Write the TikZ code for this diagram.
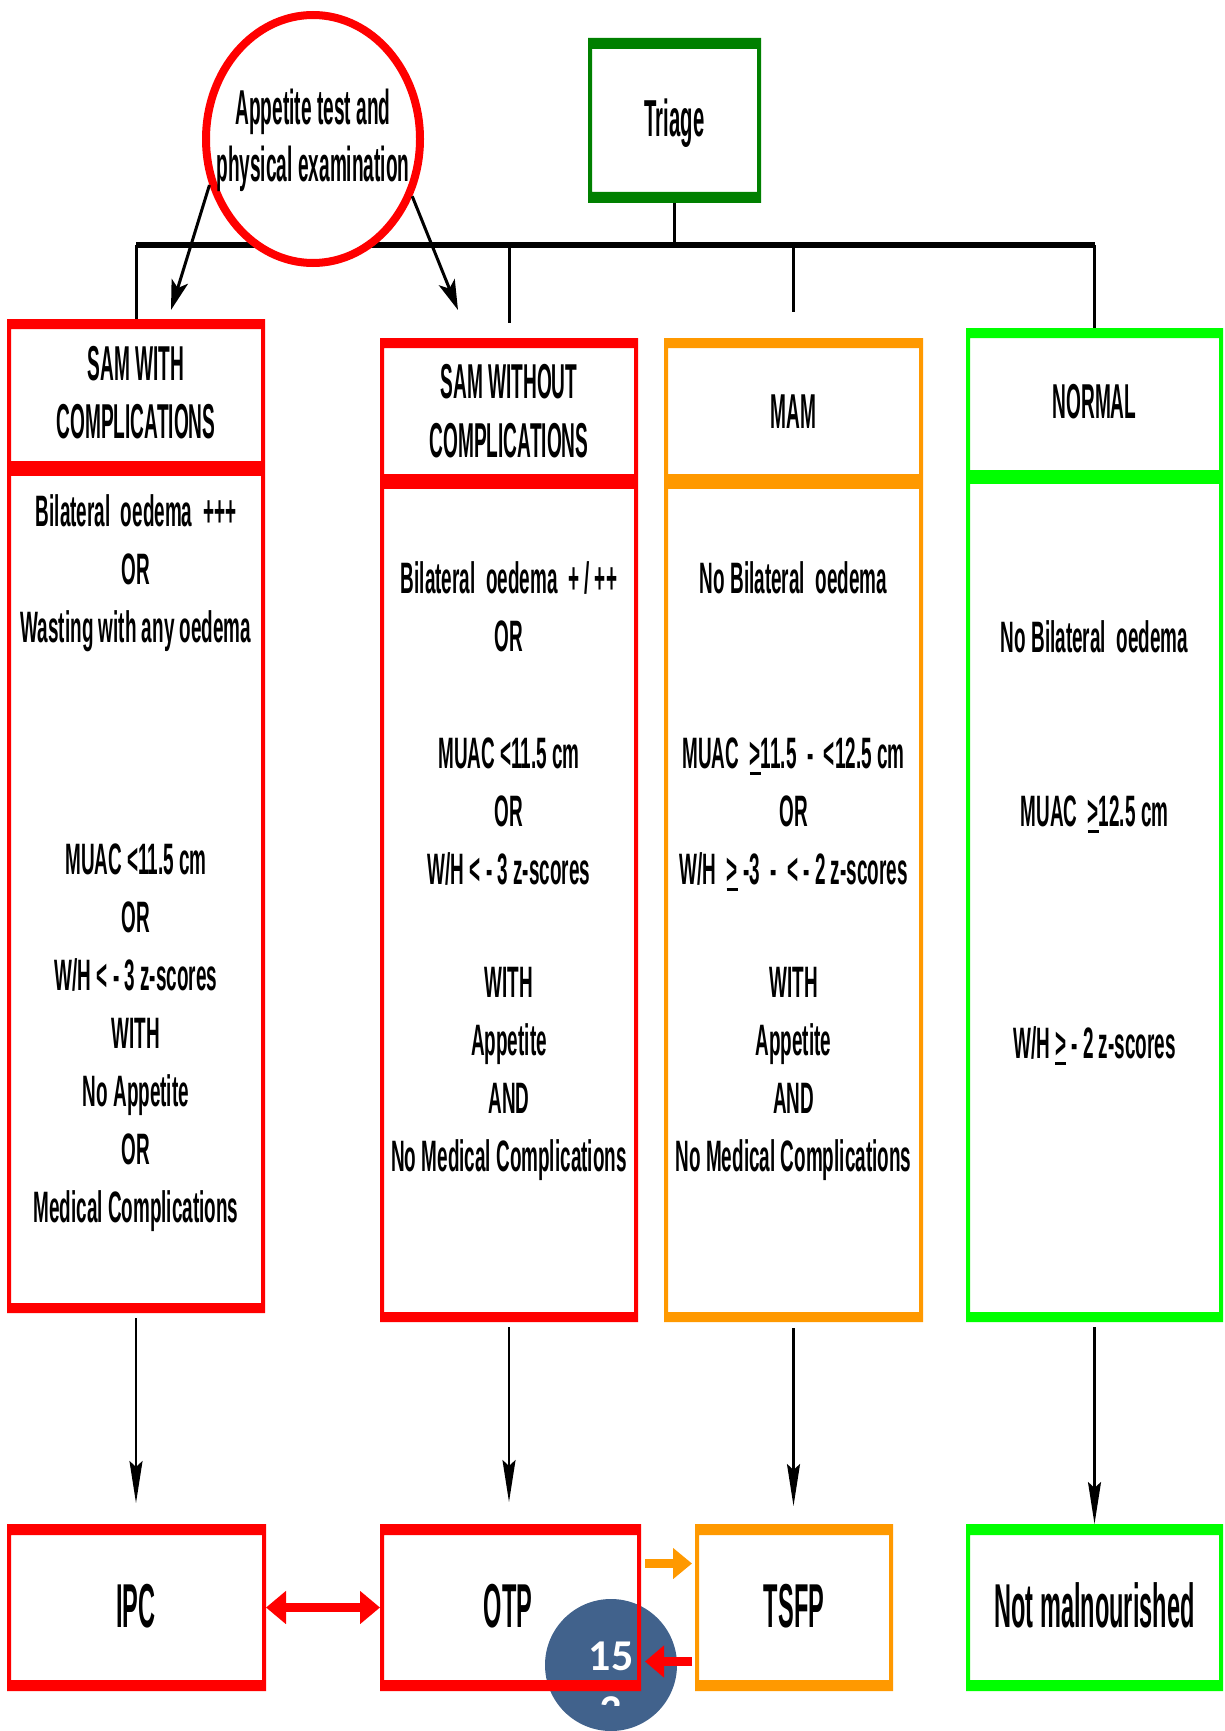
\documentclass[tikz,border=0pt]{standalone}
\usepackage{fontspec}
\usetikzlibrary{arrows.meta,shapes.geometric}
\newfontfamily\bodyf[FakeStretch=0.43]{Liberation Sans}
\newfontfamily\headf[FakeStretch=0.39]{Liberation Sans}
\newfontfamily\bigf[FakeStretch=0.38]{Liberation Sans}
\newfontfamily\numf{Carlito}
\definecolor{myred}{RGB}{255,0,0}
\definecolor{myorange}{RGB}{255,153,0}
\definecolor{mygreen}{RGB}{0,255,0}
\definecolor{darkgr}{RGB}{0,128,0}
\definecolor{pgblue}{RGB}{65,98,140}
\newcommand\ugt{\rlap{\rule[-7pt]{11pt}{3pt}}>}
\newcommand\mybox[7]{%
  \fill[#2,even odd rule] (#3,#4) rectangle (#5,#6) (#3+4,#4+#7) rectangle (#5-4,#6-#7);
  \coordinate (#1-n) at ({(#3+#5)/2},#4);
  \coordinate (#1-s) at ({(#3+#5)/2},#6);
  \coordinate (#1-w) at (#3,{(#4+#6)/2});
  \coordinate (#1-e) at (#5,{(#4+#6)/2});
}
\tikzset{
  bodytxt/.style={font=\bodyf\bfseries\fontsize{44}{50}\selectfont, anchor=base, inner sep=0pt},
  headtxt/.style={font=\headf\bfseries\fontsize{49}{55}\selectfont, anchor=base, inner sep=0pt},
  bigtxt/.style={font=\bigf\bfseries\fontsize{62}{70}\selectfont, anchor=base, inner sep=0pt},
  busline/.style={line width=6pt, black},
  dropline/.style={line width=3pt, black},
  darr/.style={line width=2.5pt, black, -{Stealth[length=42pt,width=13pt,inset=6pt]}},
  diagarr/.style={line width=3pt, black, -{Stealth[length=30pt,width=17pt,inset=7pt]}},
  blockarr/.style={line width=9pt}
}
\begin{document}
\begin{tikzpicture}[x=1pt,y=-1pt]
\useasboundingbox (0,0) rectangle (1225,1731);
\clip (0,0) rectangle (1225,1731);
\fill[white] (0,0) rectangle (1225,1731);

% bus
\coordinate (bus-l) at (136,245);
\coordinate (bus-r) at (1094.5,245);
\coordinate (wo-end) at (509,323);
\coordinate (mam-end) at (793.5,312);

% boxes
\mybox{triage}{darkgr}{588}{38}{761}{203}{11}
\mybox{samw}{myred}{7}{319}{265}{1313}{10}
\mybox{wo}{myred}{380}{338}{638}{1322}{10}
\mybox{mam}{myorange}{664}{338}{923}{1322}{10}
\mybox{norm}{mygreen}{966}{328}{1223}{1322}{10}

\draw[busline] (bus-l) -- (bus-r);
\draw[dropline] (triage-s) -- (triage-s |- bus-l);
\draw[dropline] (samw-n |- bus-l) -- (samw-n);
\draw[dropline] (wo-end |- bus-l) -- (wo-end);
\draw[dropline] (mam-end |- bus-l) -- (mam-end);
\draw[dropline] (norm-n |- bus-l) -- (norm-n);

% separators
\fill[myred] (7,461) rectangle (265,476);
\fill[myred] (380,474) rectangle (638,489);
\fill[myorange] (664,474) rectangle (923,489);
\fill[mygreen] (966,470) rectangle (1223,484);

% appetite circle
\node[ellipse, draw=myred, line width=8pt, fill=white, minimum width=214pt, minimum height=248pt, inner sep=0pt] (app) at (313,139) {};
\coordinate (d1) at (171,310);
\coordinate (d2) at (458,310);
\draw[diagarr] (app.204) -- (d1);
\draw[diagarr] (app.330) -- (d2);
\node[headtxt] (t-app1) at (313,125) {Appetite test and};
\node[headtxt] (t-app2) at (313,182) {physical examination};

% triage
\node[headtxt, font=\headf\bfseries\fontsize{52}{58}\selectfont] (t-tri) at (674.5,137) {Triage};

% headers
\node[headtxt] (h1a) at (136,380) {SAM WITH};
\node[headtxt] (h1b) at (136,438) {COMPLICATIONS};
\node[headtxt] (h2a) at (509,398) {SAM WITHOUT};
\node[headtxt] (h2b) at (509,457) {COMPLICATIONS};
\node[headtxt] (h3) at (793.5,428) {MAM};
\node[headtxt] (h4) at (1094.5,418) {NORMAL};

% left body
\node[bodytxt] (l1) at (136,526) {Bilateral\ \ oedema\ \ +++};
\node[bodytxt] (l2) at (136,584) {OR};
\node[bodytxt] (l3) at (136,642) {Wasting with any oedema};
\node[bodytxt] (l4) at (136,874) {MUAC <11.5 cm};
\node[bodytxt] (l5) at (136,932) {OR};
\node[bodytxt] (l6) at (136,990) {W/H < - 3 z-scores};
\node[bodytxt] (l7) at (136,1048) {WITH};
\node[bodytxt] (l8) at (136,1106) {No Appetite};
\node[bodytxt] (l9) at (136,1164) {OR};
\node[bodytxt] (l10) at (136,1222) {Medical Complications};

% middle body
\node[bodytxt] (m1) at (509,593) {Bilateral\ \ oedema\ \ + / ++};
\node[bodytxt] (m2) at (509,651) {OR};
\node[bodytxt] (m3) at (509,768) {MUAC <11.5 cm};
\node[bodytxt] (m4) at (509,826) {OR};
\node[bodytxt] (m5) at (509,884) {W/H < - 3 z-scores};
\node[bodytxt] (m6) at (509,997) {WITH};
\node[bodytxt] (m7) at (509,1055) {Appetite};
\node[bodytxt] (m8) at (509,1113) {AND};
\node[bodytxt] (m9) at (509,1171) {No Medical Complications};

% MAM body
\node[bodytxt] (a1) at (793.5,593) {No Bilateral\ \ oedema};
\node[bodytxt] (a2) at (793.5,768) {MUAC\ \ \ugt11.5\ \ -\ \ <12.5 cm};
\node[bodytxt] (a3) at (793.5,826) {OR};
\node[bodytxt] (a4) at (793.5,884) {W/H\ \ \ugt\ -3\ \ -\ \ < - 2 z-scores};
\node[bodytxt] (a5) at (793.5,997) {WITH};
\node[bodytxt] (a6) at (793.5,1055) {Appetite};
\node[bodytxt] (a7) at (793.5,1113) {AND};
\node[bodytxt] (a8) at (793.5,1171) {No Medical Complications};

% normal body
\node[bodytxt] (n1) at (1094.5,652) {No Bilateral\ \ oedema};
\node[bodytxt] (n2) at (1094.5,826) {MUAC\ \ \ugt12.5 cm};
\node[bodytxt] (n3) at (1094.5,1058) {W/H \ugt\ - 2 z-scores};

% page number circle
\node[circle, fill=pgblue, minimum size=132pt, inner sep=0pt] (pg) at (611,1665) {};

% bottom boxes
\mybox{ipc}{myred}{7}{1524}{266}{1691}{11}
\mybox{otp}{myred}{380}{1524}{641}{1691}{11}
\mybox{tsfp}{myorange}{695}{1524}{893}{1691}{11}
\mybox{nm}{mygreen}{966}{1524}{1223}{1691}{11}

\node[bigtxt] (b1) at (136,1627) {IPC};
\node[bigtxt] (b2) at (508,1627) {OTP};
\node[bigtxt] (b3) at (794,1627) {TSFP};
\node[bigtxt] (b4) at (1094.5,1627) {Not malnourished};

% down arrows
\draw[darr, shorten <=5pt, shorten >=21pt] (samw-s) -- (samw-s |- ipc-n);
\draw[darr, shorten <=5pt, shorten >=22pt] (wo-s) -- (wo-s |- otp-n);
\draw[darr, shorten <=6pt, shorten >=18pt] (mam-s) -- (mam-s |- tsfp-n);
\draw[darr, shorten <=5pt] (norm-s) -- (norm-s |- nm-n);

% block arrows
\draw[blockarr, myred, {Triangle[length=20pt,width=32pt]}-{Triangle[length=20pt,width=32pt]}] (ipc-e) -- (otp-w);
\draw[blockarr, myorange, -{Triangle[length=19pt,width=30pt]}, shorten <=4pt, shorten >=3pt] ([yshift=44pt]otp-e) -- ([yshift=44pt]tsfp-w);
\draw[blockarr, myred, -{Triangle[length=19pt,width=31pt]}, shorten <=3pt, shorten >=4pt] ([yshift=-54pt]tsfp-w) -- ([yshift=-54pt]otp-e);

% page number
\node[font=\numf\bfseries\fontsize{44}{50}\selectfont, text=white, anchor=base, inner sep=0pt] (pgn) at (611,1670) {15};
\begin{scope}
\clip (540,1690) rectangle (680,1705);
\node[font=\numf\bfseries\fontsize{44}{50}\selectfont, text=white, anchor=base, inner sep=0pt] (pgn2) at (611,1725) {3};
\end{scope}
\end{tikzpicture}
\end{document}
